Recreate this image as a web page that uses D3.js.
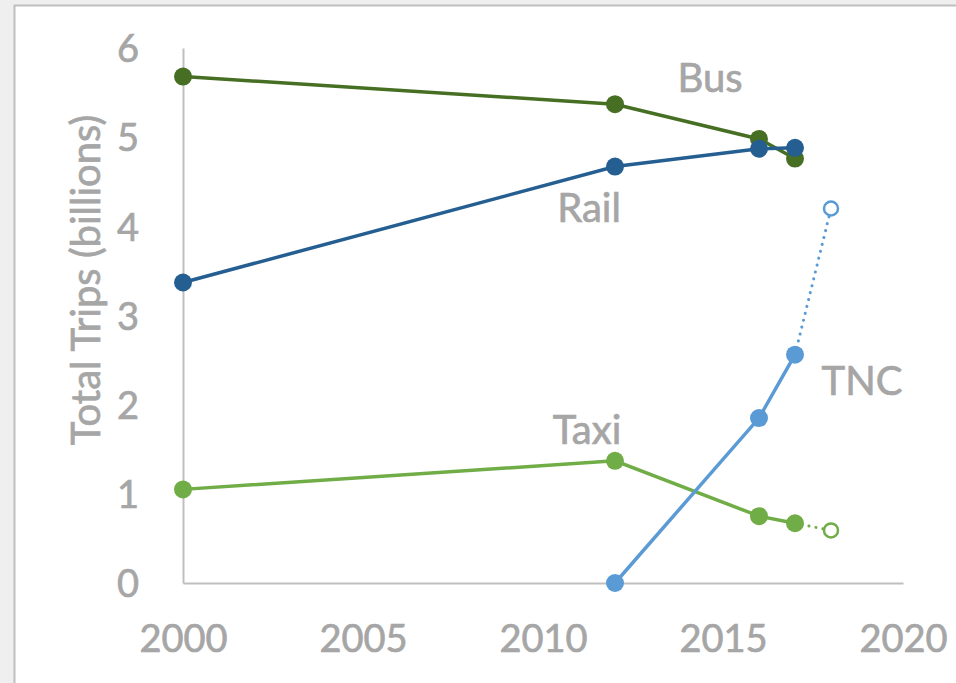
<!DOCTYPE html>
<html>
<head>
<meta charset="utf-8">
<script src="https://cdn.jsdelivr.net/npm/d3@7"></script>
<style>
  body { margin: 0; background: #efefef; }
  #chart { width: 956px; height: 683px; }
  text { font-family: Lato, "Open Sans", sans-serif; fill: #a6a6a6; stroke: #a6a6a6; stroke-width: 0.7px; }
</style>
</head>
<body>
<div id="chart"></div>
<script>
// trips by mode, billions
const busYears = [2000, 2012, 2016, 2017];
const busTrips = [5.68, 5.37, 4.98, 4.76];

const railYears = [2000, 2012, 2016, 2017];
const railTrips = [3.37, 4.67, 4.87, 4.88];

const taxiYears = [2000, 2012, 2016, 2017];
const taxiTrips = [1.05, 1.37, 0.75, 0.67];
const taxiProjYear = 2018;
const taxiProj = 0.59;

const tncYears = [2012, 2016, 2017];
const tncTrips = [0, 1.85, 2.56];
const tncProjYear = 2018;
const tncProj = 4.2;

const xTicks = [2000, 2005, 2010, 2015, 2020];
const yTicks = [0, 1, 2, 3, 4, 5, 6];

const seriesNames = ["Bus", "Rail", "Taxi", "TNC"];
const seriesColors = ["#466f24", "#255e91", "#70ad47", "#5b9bd5"];

let svg = d3.select("#chart").append("svg")
    .attr("width", 956)
    .attr("height", 683);

// white chart area with grey frame
svg.append("rect")
    .attr("x", 14.5).attr("y", 5.5)
    .attr("width", 960).attr("height", 700)
    .attr("fill", "#fff")
    .attr("stroke", "#bfbfbf")
    .attr("stroke-width", 2);

let x = d3.scaleLinear().domain([2000, 2020]).range([183, 903]);
let y = d3.scaleLinear().domain([0, 6]).range([583, 48]);

// axes
let xAxis = d3.axisBottom(x).tickValues(xTicks).tickSize(0).tickPadding(42).tickFormat(d3.format("d"));
let yAxis = d3.axisLeft(y).tickValues(yTicks).tickSize(0).tickPadding(44).tickFormat(d3.format("d"));

let gx = svg.append("g").attr("transform", "translate(0,583)").call(xAxis);
let gy = svg.append("g").attr("transform", "translate(183,0)").call(yAxis);

[gx, gy].forEach(g => {
    g.select(".domain").attr("stroke", "#bfbfbf").attr("stroke-width", 2);
    g.selectAll("text")
        .style("font-family", "Lato, 'Open Sans', sans-serif")
        .style("font-size", "38px")
        .attr("fill", "#a6a6a6");
});
gy.selectAll("text").attr("dy", "0.36em");

// y-axis label
svg.append("text")
    .attr("transform", "rotate(-90)")
    .attr("x", -280)
    .attr("y", 100)
    .attr("text-anchor", "middle")
    .style("font-size", "40px")
    .text("Total Trips (billions)");

let line = d3.line().x(d => x(d[0])).y(d => y(d[1]));

function drawSeries(years, vals, color) {
    let pts = years.map((yr, i) => [yr, vals[i]]);
    svg.append("path")
        .datum(pts)
        .attr("d", line)
        .attr("fill", "none")
        .attr("stroke", color)
        .attr("stroke-width", 3.5);
    svg.selectAll(null)
        .data(pts)
        .enter().append("circle")
        .attr("cx", d => x(d[0]))
        .attr("cy", d => y(d[1]))
        .attr("r", 9)
        .attr("fill", color);
}

function drawProjection(lastYear, lastVal, projYear, projVal, color) {
    let pts = [[lastYear, lastVal], [projYear, projVal]];
    svg.append("path")
        .datum(pts)
        .attr("d", line)
        .attr("fill", "none")
        .attr("stroke", color)
        .attr("stroke-width", 3)
        .attr("stroke-linecap", "round")
        .attr("stroke-dasharray", "0.1 7");
    svg.append("circle")
        .attr("cx", x(projYear))
        .attr("cy", y(projVal))
        .attr("r", 7)
        .attr("fill", "#fff")
        .attr("stroke", color)
        .attr("stroke-width", 2.5);
}

drawProjection(taxiYears[3], taxiTrips[3], taxiProjYear, taxiProj, seriesColors[2]);
drawSeries(taxiYears, taxiTrips, seriesColors[2]);
drawSeries(busYears, busTrips, seriesColors[0]);
drawSeries(railYears, railTrips, seriesColors[1]);
drawProjection(tncYears[2], tncTrips[2], tncProjYear, tncProj, seriesColors[3]);
drawSeries(tncYears, tncTrips, seriesColors[3]);

// series labels
const labelPos = [[710, 92], [589, 222], [587, 444], [862, 395]];
seriesNames.forEach((n, i) => {
    svg.append("text")
        .attr("x", labelPos[i][0])
        .attr("y", labelPos[i][1])
        .attr("text-anchor", "middle")
        .style("font-size", "40px")
        .text(n);
});
</script>
</body>
</html>
